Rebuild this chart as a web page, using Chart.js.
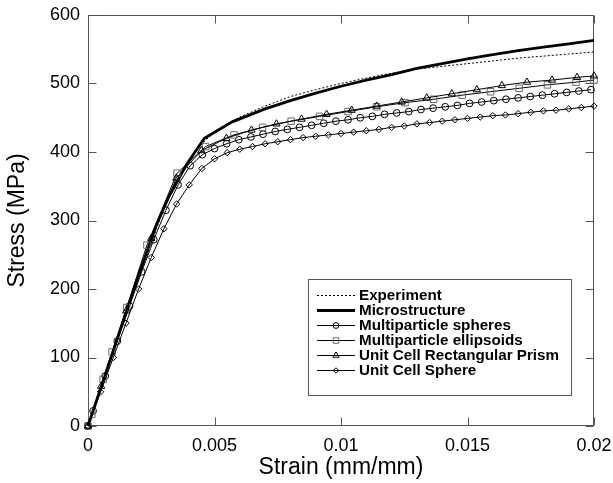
<!DOCTYPE html>
<html><head><meta charset="utf-8">
<script src="https://cdn.jsdelivr.net/npm/chart.js@4/dist/chart.umd.min.js"></script>
<style>html,body{margin:0;padding:0;background:#fff;}canvas{display:block;}</style>
</head><body>
<canvas id="c" width="613" height="483"></canvas>
<script>
// ---- tick labels ----
const xTicks = [0, 0.005, 0.01, 0.015, 0.02];
const xTickLabels = ['0', '0.005', '0.01', '0.015', '0.02'];
const yTicks = [0, 100, 200, 300, 400, 500, 600];
const yTickLabels = ['0', '100', '200', '300', '400', '500', '600'];

// ---- series names ----
const seriesNames = ['Experiment', 'Microstructure', 'Multiparticle spheres', 'Multiparticle ellipsoids', 'Unit Cell Rectangular Prism', 'Unit Cell Sphere'];

// ---- Experiment ----
const expStrain = [0, 0.001, 0.002, 0.003, 0.0035, 0.004, 0.0045, 0.005, 0.0055, 0.006, 0.007, 0.008, 0.009, 0.01, 0.011, 0.012, 0.013, 0.014, 0.015, 0.016, 0.017, 0.018, 0.019, 0.02];
const expStress = [0, 108, 215, 318, 356, 388, 412, 429, 441, 451, 467, 481, 491, 500, 508, 515, 521, 525, 529, 533, 537, 540, 543, 546];

// ---- Microstructure ----
const micStrain = [0, 0.001, 0.002, 0.0027, 0.0032, 0.0039, 0.0046, 0.0057, 0.007, 0.008, 0.009, 0.01, 0.011, 0.012, 0.013, 0.014, 0.015, 0.016, 0.017, 0.018, 0.019, 0.02];
const micStress = [0, 110, 220, 293, 335, 382, 420, 444, 463, 475, 486, 496, 505, 513, 522, 529, 536, 542, 548, 553, 558, 563];

// ---- Multiparticle spheres ----
const sphStrain = [0, 0.0002, 0.00068, 0.00116, 0.00164, 0.00212, 0.0026, 0.00308, 0.00356, 0.00404, 0.00452, 0.005, 0.00548, 0.00596, 0.00644, 0.00692, 0.0074, 0.00788, 0.00836, 0.00884, 0.00932, 0.0098, 0.01028, 0.01076, 0.01124, 0.01172, 0.0122, 0.01268, 0.01316, 0.01364, 0.01412, 0.0146, 0.01508, 0.01556, 0.01604, 0.01652, 0.017, 0.01748, 0.01796, 0.01844, 0.01892, 0.0194, 0.01988];
const sphStress = [0, 22, 73, 124, 175, 225, 272, 315, 352, 380, 396, 405, 412, 418, 422, 426, 430, 433, 436, 439, 442, 445, 447, 450, 452, 455, 457, 459, 462, 464, 466, 468, 471, 473, 475, 477, 479, 481, 483, 485, 487, 489, 491];

// ---- Multiparticle ellipsoids ----
const ellStrain = [0, 0.00015, 0.0006, 0.00095, 0.00153, 0.00233, 0.00352, 0.00465, 0.00577, 0.0069, 0.00803, 0.00915, 0.01028, 0.0114, 0.01253, 0.01366, 0.01479, 0.01591, 0.01704, 0.01816, 0.01929, 0.02];
const ellStress = [0, 17, 68, 108, 173, 264, 369, 408, 425, 436, 445, 452, 459, 466, 472, 477, 483, 488, 493, 498, 502, 505];

// ---- Unit Cell Rectangular Prism ----
const priStrain = [0, 0.00052, 0.00151, 0.0025, 0.00349, 0.00448, 0.00547, 0.00646, 0.00745, 0.00844, 0.00943, 0.01042, 0.01141, 0.0124, 0.01339, 0.01438, 0.01537, 0.01636, 0.01735, 0.01834, 0.01933, 0.02];
const priStress = [0, 58, 168, 274, 362, 402, 420, 432, 441, 448, 455, 461, 467, 473, 479, 485, 491, 497, 502, 505, 509, 511];

// ---- Unit Cell Sphere ----
const ucsStrain = [0, 0.0005, 0.001, 0.0015, 0.002, 0.0025, 0.003, 0.0035, 0.004, 0.0045, 0.005, 0.0055, 0.006, 0.0065, 0.007, 0.0075, 0.008, 0.0085, 0.009, 0.0095, 0.01, 0.0105, 0.011, 0.0115, 0.012, 0.0125, 0.013, 0.0135, 0.014, 0.0145, 0.015, 0.0155, 0.016, 0.0165, 0.017, 0.0175, 0.018, 0.0185, 0.019, 0.0195, 0.02];
const ucsStress = [0, 50, 100, 150, 200, 246, 288, 324, 352, 376, 390, 399, 404, 408, 412, 415, 418, 421, 423, 425, 427, 429, 431, 433, 436, 438, 441, 443, 445, 447, 449, 451, 453, 454, 456, 458, 460, 461, 463, 465, 467];

function pts(xs, ys) { return xs.map((v, i) => ({x: v, y: ys[i]})); }

const FONT = '"Liberation Sans", Arial, Helvetica, sans-serif';
const FRAME = '#555555';

const styles = [
  {borderWidth: 1, borderDash: [2, 2], pointStyle: false, pointRadius: 0},
  {borderWidth: 2.8, pointStyle: false, pointRadius: 0},
  {borderWidth: 1, pointStyle: 'circle', pointRadius: 3.4, pointBorderColor: '#000'},
  {borderWidth: 1, pointStyle: 'rect', pointRadius: 4.6, pointBorderColor: '#6a6a6a'},
  {borderWidth: 1, pointStyle: 'triangle', pointRadius: 4.2, pointBorderColor: '#000'},
  {borderWidth: 1, pointStyle: 'rectRot', pointRadius: 3.2, pointBorderColor: '#000'}
];
const seriesData = [
  pts(expStrain, expStress), pts(micStrain, micStress), pts(sphStrain, sphStress),
  pts(ellStrain, ellStress), pts(priStrain, priStress), pts(ucsStrain, ucsStress)
];

const datasets = seriesNames.map((name, i) => Object.assign({
  label: name,
  data: seriesData[i],
  showLine: true,
  borderColor: '#000',
  backgroundColor: 'rgba(0,0,0,0)',
  pointBackgroundColor: 'rgba(0,0,0,0)',
  pointBorderWidth: 1,
  pointHoverRadius: 0,
  tension: 0,
  clip: false,
  order: 6 - i
}, styles[i]));

function drawMarker(ctx, style, r, x, y) {
  ctx.beginPath();
  if (style === 'circle') {
    ctx.arc(x, y, r, 0, Math.PI * 2);
  } else if (style === 'rect') {
    const s = Math.SQRT1_2 * r;
    ctx.rect(x - s, y - s, 2 * s, 2 * s);
  } else if (style === 'triangle') {
    for (let k = 0; k < 3; k++) {
      const a = k * 2 * Math.PI / 3;
      const px = x + Math.sin(a) * r, py = y - Math.cos(a) * r;
      if (k === 0) ctx.moveTo(px, py); else ctx.lineTo(px, py);
    }
    ctx.closePath();
  } else if (style === 'rectRot') {
    ctx.moveTo(x - r, y); ctx.lineTo(x, y - r); ctx.lineTo(x + r, y); ctx.lineTo(x, y + r); ctx.closePath();
  }
  ctx.stroke();
}

const framePlugin = {
  id: 'frameTicks',
  beforeDatasetsDraw(chart) {
    const {ctx, chartArea: a, scales} = chart;
    ctx.save();
    ctx.strokeStyle = FRAME;
    ctx.lineWidth = 1;
    const L = Math.round(a.left) + 0.5, R = Math.round(a.right) - 0.5;
    const T = Math.round(a.top) + 0.5, B = Math.round(a.bottom) - 0.5;
    ctx.strokeRect(L, T, R - L, B - T);
    const tl = 8;
    ctx.beginPath();
    xTicks.forEach(v => {
      const px = Math.round(scales.x.getPixelForValue(v)) + 0.5;
      ctx.moveTo(px, B); ctx.lineTo(px, B - tl);
      ctx.moveTo(px, T); ctx.lineTo(px, T + tl);
    });
    yTicks.forEach(v => {
      const py = Math.round(scales.y.getPixelForValue(v)) + 0.5;
      ctx.moveTo(L, py); ctx.lineTo(L + tl, py);
      ctx.moveTo(R, py); ctx.lineTo(R - tl, py);
    });
    ctx.stroke();
    ctx.restore();
  },
  afterDraw(chart) {
    const ctx = chart.ctx;
    const box = {x: 308, y: 279, w: 263, h: 116};
    ctx.save();
    ctx.fillStyle = '#fff';
    ctx.fillRect(box.x, box.y, box.w, box.h);
    ctx.strokeStyle = FRAME;
    ctx.lineWidth = 1;
    ctx.strokeRect(box.x + 0.5, box.y + 0.5, box.w, box.h);
    const x0 = 317, x1 = 355, tx = 359;
    ctx.font = 'bold 15.2px ' + FONT;
    ctx.textBaseline = 'middle';
    ctx.textAlign = 'left';
    chart.data.datasets.forEach((ds, i) => {
      const yy = Math.round(295 + i * 15) + 0.5;
      ctx.strokeStyle = '#000';
      ctx.lineWidth = ds.borderWidth;
      ctx.setLineDash(ds.borderDash || []);
      ctx.beginPath(); ctx.moveTo(x0, yy); ctx.lineTo(x1, yy); ctx.stroke();
      ctx.setLineDash([]);
      if (ds.pointStyle) {
        ctx.lineWidth = 1;
        ctx.strokeStyle = ds.pointBorderColor;
        drawMarker(ctx, ds.pointStyle, ds.pointRadius * 0.85, (x0 + x1) / 2, yy);
      }
      ctx.fillStyle = '#000';
      ctx.fillText(ds.label, tx, yy + 0.5);
    });
    ctx.restore();
  }
};

new Chart(document.getElementById('c'), {
  type: 'scatter',
  data: {datasets},
  options: {
    responsive: false,
    animation: false,
    devicePixelRatio: 1,
    events: [],
    layout: {padding: {left: 0, right: 19, top: 15, bottom: 0}},
    plugins: {legend: {display: false}, tooltip: {enabled: false}},
    scales: {
      x: {
        type: 'linear', min: 0, max: 0.02,
        grid: {display: false, drawTicks: false},
        border: {display: false},
        afterBuildTicks: s => { s.ticks = xTicks.map(v => ({value: v})); },
        afterFit: s => { s.height = 57; s.paddingLeft = 0; s.paddingRight = 0; s.paddingTop = 0; s.paddingBottom = 0; },
        ticks: {
          autoSkip: false, maxRotation: 0, padding: 9, color: '#000',
          font: {family: FONT, size: 18},
          callback: (v) => { const i = xTicks.findIndex(t => Math.abs(t - v) < 1e-9); return i >= 0 ? xTickLabels[i] : ''; }
        },
        title: {display: true, text: 'Strain (mm/mm)', color: '#000', font: {family: FONT, size: 23}, lineHeight: 1.2, padding: {top: 0, bottom: 2}}
      },
      y: {
        type: 'linear', min: 0, max: 600,
        grid: {display: false, drawTicks: false},
        border: {display: false},
        afterBuildTicks: s => { s.ticks = yTicks.map(v => ({value: v})); },
        afterFit: s => { s.width = 88; s.paddingLeft = 0; s.paddingRight = 0; s.paddingTop = 0; s.paddingBottom = 0; },
        ticks: {
          autoSkip: false, padding: 8, color: '#000',
          font: {family: FONT, size: 18},
          callback: (v) => { const i = yTicks.indexOf(v); return i >= 0 ? yTickLabels[i] : ''; }
        },
        title: {display: true, text: 'Stress (MPa)', color: '#000', font: {family: FONT, size: 23}, padding: {top: 4, bottom: 0}}
      }
    }
  },
  plugins: [framePlugin]
});
</script>
</body></html>
